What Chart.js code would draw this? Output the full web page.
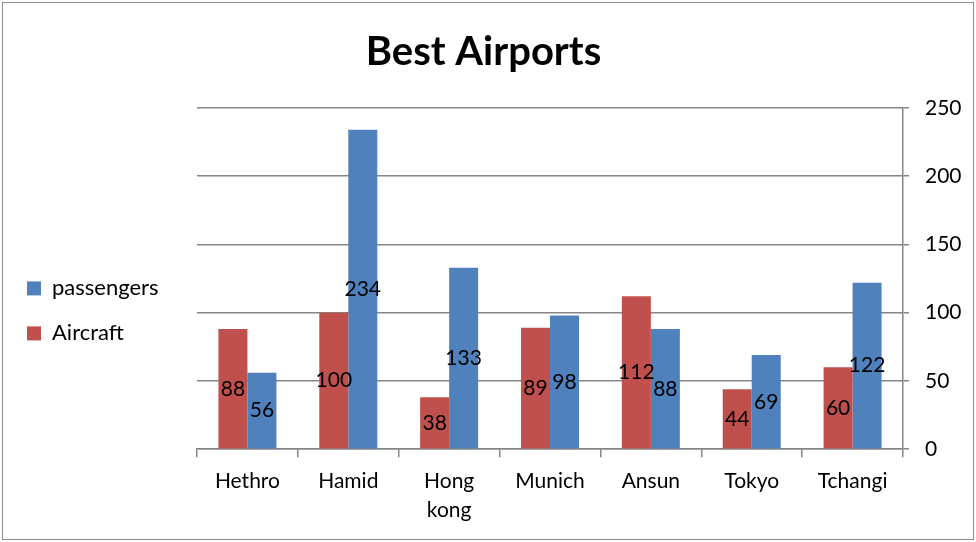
<!DOCTYPE html>
<html>
<head>
<meta charset="utf-8">
<script src="https://cdn.jsdelivr.net/npm/chart.js@4"></script>
<style>
  body { margin: 0; background: #fff; }
  #frame { position: absolute; left: 2px; top: 2px; width: 970px; height: 536px; border: 1px solid #8c8c8c; }
  canvas { position: absolute; left: 0; top: 0; }
</style>
</head>
<body>
<div id="frame"></div>
<canvas id="chart" width="976" height="542"></canvas>
<script>
const airports = ['Hethro', 'Hamid', ['Hong', 'kong'], 'Munich', 'Ansun', 'Tokyo', 'Tchangi'];
const aircraft = [88, 100, 38, 89, 112, 44, 60];
const passengers = [56, 234, 133, 98, 88, 69, 122];
const yMin = 0, yMax = 250, yStep = 50;

const FONT = 'Lato, Calibri, Carlito, sans-serif';
const gridGrey = '#868686';

// value labels in the middle of each bar
const barLabels = {
  id: 'barLabels',
  afterDatasetsDraw(chart) {
    const ctx = chart.ctx;
    ctx.save();
    ctx.font = '21px ' + FONT;
    ctx.fillStyle = '#000';
    ctx.textAlign = 'center';
    ctx.textBaseline = 'middle';
    chart.data.datasets.forEach((ds, di) => {
      chart.getDatasetMeta(di).data.forEach((bar, i) => {
        ctx.fillText(ds.data[i], bar.x, (bar.y + bar.base) / 2);
      });
    });
    ctx.restore();
  }
};

// legend box wider than its items so the plot starts where it does in the picture
const legendWidth = {
  id: 'legendWidth',
  beforeUpdate(chart) {
    const lg = chart.legend;
    if (lg && !lg._patched) {
      const fit = lg.fit;
      lg.fit = function () { fit.call(this); this.width = 193; };
      lg._patched = true;
    }
  }
};

new Chart(document.getElementById('chart'), {
  type: 'bar',
  data: {
    labels: airports,
    datasets: [
      { label: 'Aircraft', data: aircraft, backgroundColor: '#C0504D' },
      { label: 'passengers', data: passengers, backgroundColor: '#4F81BD' }
    ]
  },
  options: {
    responsive: false,
    animation: false,
    layout: { padding: { left: 4, right: 13, top: 4, bottom: 8 } },
    datasets: { bar: { categoryPercentage: 0.575, barPercentage: 1 } },
    plugins: {
      title: {
        display: true,
        text: 'Best Airports',
        color: '#000',
        font: { family: FONT, size: 40, weight: 'bold' },
        padding: { top: 24, bottom: 32 }
      },
      legend: {
        position: 'left',
        align: 'start',
        reverse: true,
        title: { display: true, text: '', padding: { top: 236, bottom: 0 } },
        labels: {
          boxWidth: 14,
          boxHeight: 14,
          padding: 23,
          color: '#000',
          font: { family: FONT, size: 22 }
        }
      },
      tooltip: { enabled: false }
    },
    scales: {
      x: {
        grid: { offset: true, drawOnChartArea: false, drawTicks: true, tickLength: 8, color: gridGrey, lineWidth: 1.5 },
        border: { display: true, color: gridGrey, width: 1.5 },
        ticks: { color: '#000', font: { family: FONT, size: 21, lineHeight: 1.4 }, padding: 9, maxRotation: 0 }
      },
      y: {
        position: 'right',
        min: yMin,
        max: yMax,
        afterFit(scale) { scale.width = 60; },
        grid: { color: gridGrey, lineWidth: 1.5, tickLength: 6 },
        border: { display: true, color: gridGrey, width: 1.5 },
        ticks: { stepSize: yStep, color: '#000', font: { family: FONT, size: 21 }, padding: 16 }
      }
    }
  },
  plugins: [barLabels, legendWidth]
});
</script>
</body>
</html>
